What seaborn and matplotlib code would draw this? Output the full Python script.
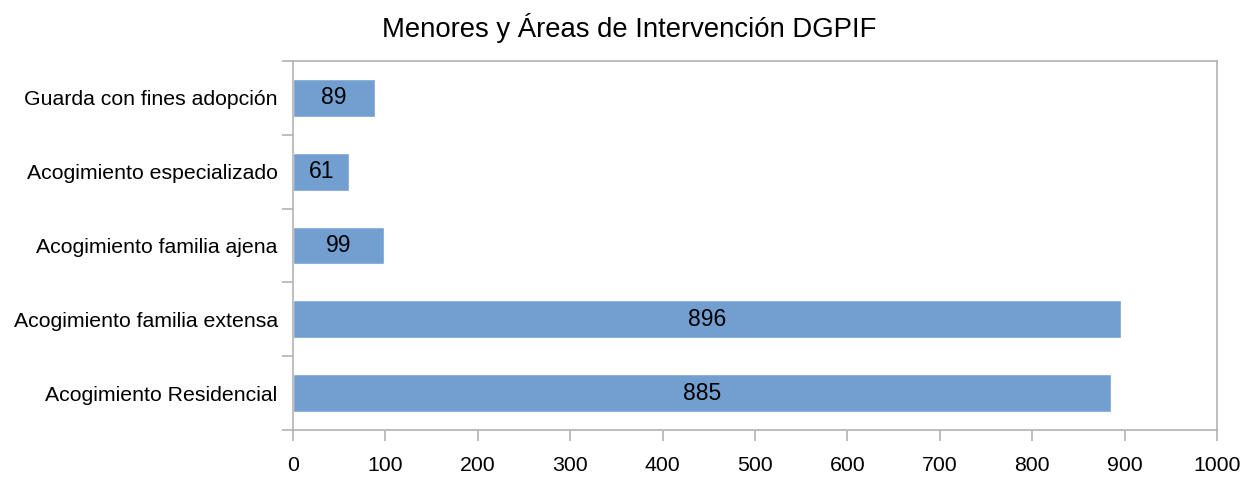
import matplotlib
matplotlib.use("Agg")
import matplotlib.pyplot as plt
from matplotlib.ticker import FixedLocator, MultipleLocator
import seaborn as sns
import pandas as pd

categories = [
    "Guarda con fines adopción",
    "Acogimiento especializado",
    "Acogimiento familia ajena",
    "Acogimiento familia extensa",
    "Acogimiento Residencial",
]
values = [89, 61, 99, 896, 885]

sns.set_style("white")
plt.rcParams["font.family"] = ["Liberation Sans Narrow", "Liberation Sans", "DejaVu Sans"]
plt.rcParams["text.color"] = "black"
plt.rcParams["xtick.color"] = "black"
plt.rcParams["ytick.color"] = "black"

df = pd.DataFrame({"area": categories, "menores": values})

fig = plt.figure(figsize=(12.59, 4.78), dpi=100)
ax = fig.add_axes([293 / 1259, 1 - 430 / 478, (1217 - 293) / 1259, (430 - 61) / 478])

sns.barplot(data=df, y="area", x="menores", color="#729fcf", saturation=1,
            width=0.51, orient="h", ax=ax)

for c in ax.containers:
    ax.bar_label(c, label_type="center", fontsize=16.5, color="black")

ax.set_xlim(0, 1000)
ax.set_ylim(len(categories) - 0.5, -0.5)
ax.xaxis.set_major_locator(MultipleLocator(100))
ax.set_xlabel("")
ax.set_ylabel("")

# category separators on the y axis
ax.yaxis.set_minor_locator(FixedLocator([i - 0.5 for i in range(len(categories) + 1)]))
ax.tick_params(axis="y", which="major", left=True, length=0, labelsize=15.3, pad=11,
               labelcolor="black")
ax.tick_params(axis="y", which="minor", left=True, length=8, width=1.2, color="#b3b3b3",
               direction="out")
ax.tick_params(axis="x", which="major", bottom=True, length=8, width=1.2, color="#b3b3b3",
               direction="out", labelsize=15.3, pad=11, labelcolor="black")

for s in ax.spines.values():
    s.set_color("#b3b3b3")
    s.set_linewidth(1.2)
    s.set_visible(True)

fig.suptitle("Menores y Áreas de Intervención DGPIF", fontsize=19.8, y=0.972, color="black")

fig.savefig("out.png", dpi=100)
